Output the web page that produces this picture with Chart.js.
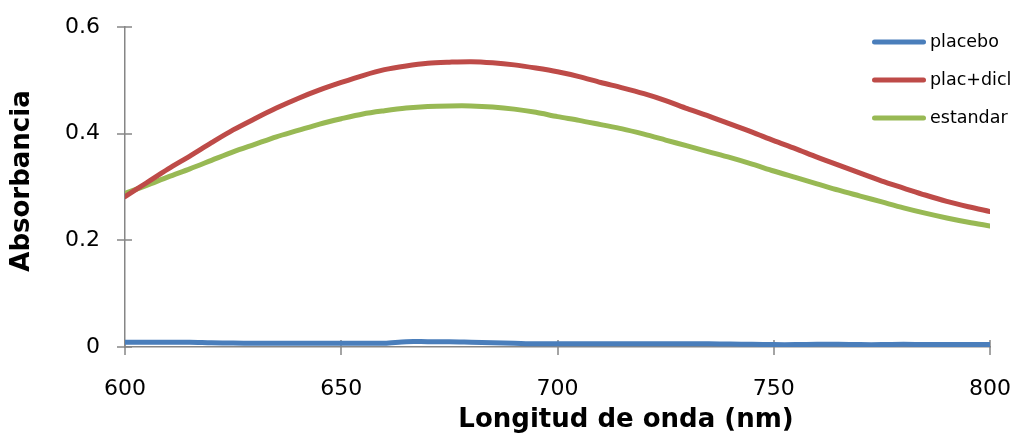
<!DOCTYPE html>
<html>
<head>
<meta charset="utf-8">
<script src="https://cdn.jsdelivr.net/npm/chart.js@4/dist/chart.umd.min.js"></script>
<style>
  html, body { margin: 0; padding: 0; background: #fff; }
  #wrap { width: 1015px; height: 435px; }
</style>
</head>
<body>
<div id="wrap"><canvas id="c" width="1015" height="435"></canvas></div>
<script>
// Wavelength (nm), sampled every 5 nm
const wavelengths = [600,605,610,615,620,625,630,635,640,645,650,655,660,665,670,675,680,685,690,695,700,
                     705,710,715,720,725,730,735,740,745,750,755,760,765,770,775,780,785,790,795,800];

const placebo = [0.009,0.009,0.009,0.009,0.008,0.0075,0.007,0.007,0.007,0.007,0.007,0.007,0.007,0.010,0.010,0.010,0.009,0.008,0.007,0.006,0.006,
                 0.006,0.006,0.006,0.006,0.006,0.006,0.006,0.0055,0.005,0.0045,0.0045,0.005,0.005,0.0045,0.0045,0.005,0.0045,0.0045,0.0045,0.0045];

const placDicl = [0.282,0.308,0.334,0.358,0.383,0.407,0.428,0.448,0.466,0.482,0.496,0.509,0.520,0.527,0.532,0.534,0.535,0.533,0.529,0.523,0.516,
                  0.507,0.496,0.486,0.475,0.462,0.447,0.433,0.418,0.403,0.387,0.372,0.356,0.341,0.326,0.311,0.298,0.285,0.273,0.263,0.254];

const estandar = [0.288,0.303,0.319,0.334,0.350,0.366,0.380,0.394,0.406,0.418,0.428,0.437,0.443,0.448,0.451,0.452,0.452,0.450,0.446,0.440,0.432,
                  0.425,0.417,0.409,0.399,0.388,0.377,0.366,0.355,0.343,0.330,0.318,0.306,0.294,0.283,0.272,0.261,0.251,0.242,0.234,0.227];

const seriesNames = ['placebo', 'plac+dicl', 'estandar'];
const seriesColors = ['#4A7EBB', '#BE4B48', '#98B954'];
const xTicks = [600, 650, 700, 750, 800];
const yTicks = [0, 0.2, 0.4, 0.6];
const xTitle = 'Longitud de onda (nm)';
const yTitle = 'Absorbancia';

const AXIS_COLOR = '#868686';
const FONT = '"DejaVu Sans", Verdana, sans-serif';

function toPoints(vals) {
  return wavelengths.map((w, i) => ({ x: w, y: vals[i] }));
}

const allSeries = [placebo, placDicl, estandar];
const datasets = allSeries.map((vals, i) => ({
  label: seriesNames[i],
  data: toPoints(vals),
  borderColor: seriesColors[i],
  backgroundColor: seriesColors[i],
  borderWidth: 5,
  borderCapStyle: 'round',
  borderJoinStyle: 'round',
  pointRadius: 0,
  tension: 0.3,
  fill: false
}));

// Cross-shaped tick marks, axis titles and the legend block
const decorations = {
  id: 'decorations',
  beforeDatasetsDraw(chart) {
    const ctx = chart.ctx;
    const xs = chart.scales.x, ys = chart.scales.y;
    const area = chart.chartArea;
    ctx.save();
    ctx.strokeStyle = AXIS_COLOR;
    ctx.lineWidth = 1.5;
    ctx.beginPath();
    yTicks.forEach(v => {
      const py = Math.round(ys.getPixelForValue(v));
      ctx.moveTo(area.left - 8, py);
      ctx.lineTo(area.left + 7, py);
    });
    xTicks.forEach(v => {
      const px = Math.round(xs.getPixelForValue(v));
      ctx.moveTo(px, area.bottom - 7);
      ctx.lineTo(px, area.bottom + 8);
    });
    ctx.stroke();
    ctx.restore();
  },
  afterDraw(chart) {
    const ctx = chart.ctx;
    ctx.save();
    ctx.fillStyle = '#000';
    ctx.font = 'bold 26px ' + FONT;
    ctx.textAlign = 'center';
    ctx.textBaseline = 'middle';
    ctx.fillText(xTitle, 626, 420);
    ctx.translate(22, 181);
    ctx.rotate(-Math.PI / 2);
    ctx.fillText(yTitle, 0, 0);
    ctx.restore();

    // legend
    ctx.save();
    ctx.font = '17.5px ' + FONT;
    ctx.textAlign = 'left';
    ctx.textBaseline = 'middle';
    ctx.lineCap = 'round';
    ctx.lineWidth = 5;
    seriesNames.forEach((name, i) => {
      const y = 42 + i * 38;
      ctx.strokeStyle = seriesColors[i];
      ctx.beginPath();
      ctx.moveTo(874.5, y);
      ctx.lineTo(923.5, y);
      ctx.stroke();
      ctx.fillStyle = '#000';
      ctx.fillText(name, 930, y);
    });
    ctx.restore();
  }
};

function clearScalePadding(s) {
  s.paddingLeft = 0; s.paddingRight = 0; s.paddingTop = 0; s.paddingBottom = 0;
}

new Chart(document.getElementById('c'), {
  type: 'line',
  data: { datasets },
  plugins: [decorations],
  options: {
    responsive: false,
    animation: false,
    events: [],
    layout: { padding: { left: 0, top: 27, right: 25, bottom: 0 } },
    plugins: { legend: { display: false }, tooltip: { enabled: false } },
    scales: {
      x: {
        type: 'linear',
        min: 600, max: 800,
        afterFit(s) { s.height = 88; clearScalePadding(s); },
        afterBuildTicks(s) { s.ticks = xTicks.map(v => ({ value: v })); },
        grid: { display: false, drawTicks: false },
        border: { display: true, color: AXIS_COLOR, width: 1.5 },
        ticks: { padding: 29, color: '#000', font: { family: FONT, size: 22 }, maxRotation: 0 }
      },
      y: {
        type: 'linear',
        min: 0, max: 0.6,
        afterFit(s) { s.width = 125; clearScalePadding(s); },
        afterBuildTicks(s) { s.ticks = yTicks.map(v => ({ value: v })); },
        grid: { display: false, drawTicks: false },
        border: { display: true, color: AXIS_COLOR, width: 1.5 },
        ticks: { padding: 25, color: '#000', font: { family: FONT, size: 22 },
                 callback: v => String(v) }
      }
    }
  }
});
</script>
</body>
</html>
